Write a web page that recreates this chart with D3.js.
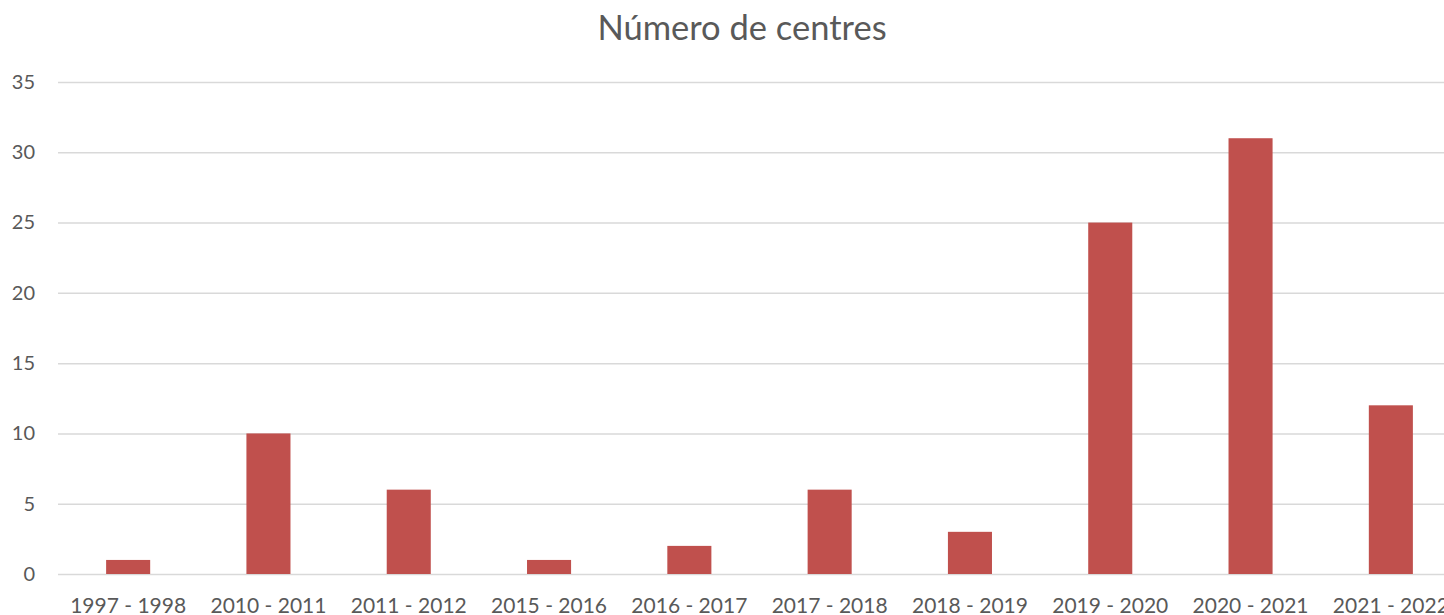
<!DOCTYPE html>
<html>
  <head>
    <meta charset="utf-8">
    <title>Número de centres</title>
    <style>
      body { margin: 0; background: #fff; }
      text { font-family: Lato, "Open Sans", sans-serif; fill: #595959; }
    </style>
    <script src="https://unpkg.com/d3@7/dist/d3.min.js"></script>
  </head>
  <body>
    <script>
      const cursos = ['1997 - 1998', '2010 - 2011', '2011 - 2012', '2015 - 2016', '2016 - 2017',
                      '2017 - 2018', '2018 - 2019', '2019 - 2020', '2020 - 2021', '2021 - 2022'];
      const centres = [1, 10, 6, 1, 2, 6, 3, 25, 31, 12];
      const yTicks = [0, 5, 10, 15, 20, 25, 30, 35];

      const width = 1444;
      const height = 615;
      const margin = { top: 82, right: -17, bottom: 41, left: 58 };

      const svg = d3.select('body')
        .append('svg')
        .attr('width', width)
        .attr('height', height);

      const x = d3.scaleBand()
        .domain(cursos)
        .range([margin.left, width - margin.right])
        .paddingInner(0.686)
        .paddingOuter(0.343);

      const y = d3.scaleLinear()
        .domain([0, 35])
        .range([height - margin.bottom, margin.top]);

      // gridlines + y labels
      const yAxis = d3.axisLeft(y)
        .tickValues(yTicks)
        .tickSize(-(width - margin.right - margin.left))
        .tickPadding(23);

      svg.append('g')
        .attr('class', 'yaxis')
        .attr('transform', `translate(${margin.left},0)`)
        .call(yAxis)
        .call(g => g.select('.domain').remove())
        .call(g => g.selectAll('.tick line').attr('stroke', '#d9d9d9').attr('stroke-width', 1.5))
        .call(g => g.selectAll('.tick text').attr('font-size', 20).attr('fill', '#595959')
          .style('font-family', 'Lato, "Open Sans", sans-serif'));

      // bars
      svg.selectAll('rect.bar')
        .data(centres)
        .join('rect')
        .attr('class', 'bar')
        .attr('x', (d, i) => x(cursos[i]))
        .attr('width', x.bandwidth())
        .attr('y', d => y(d))
        .attr('height', d => y(0) - y(d))
        .attr('fill', '#c0504d');

      // x labels
      const xAxis = d3.axisBottom(x).tickSize(0).tickPadding(24);
      svg.append('g')
        .attr('class', 'xaxis')
        .attr('transform', `translate(0,${height - margin.bottom})`)
        .call(xAxis)
        .call(g => g.select('.domain').remove())
        .call(g => g.selectAll('.tick text').attr('font-size', 21).attr('fill', '#595959')
          .style('font-family', 'Lato, "Open Sans", sans-serif'));

      svg.append('text')
        .attr('x', 742)
        .attr('y', 40)
        .attr('text-anchor', 'middle')
        .attr('font-size', 34.5)
        .text('Número de centres');
    </script>
  </body>
</html>
